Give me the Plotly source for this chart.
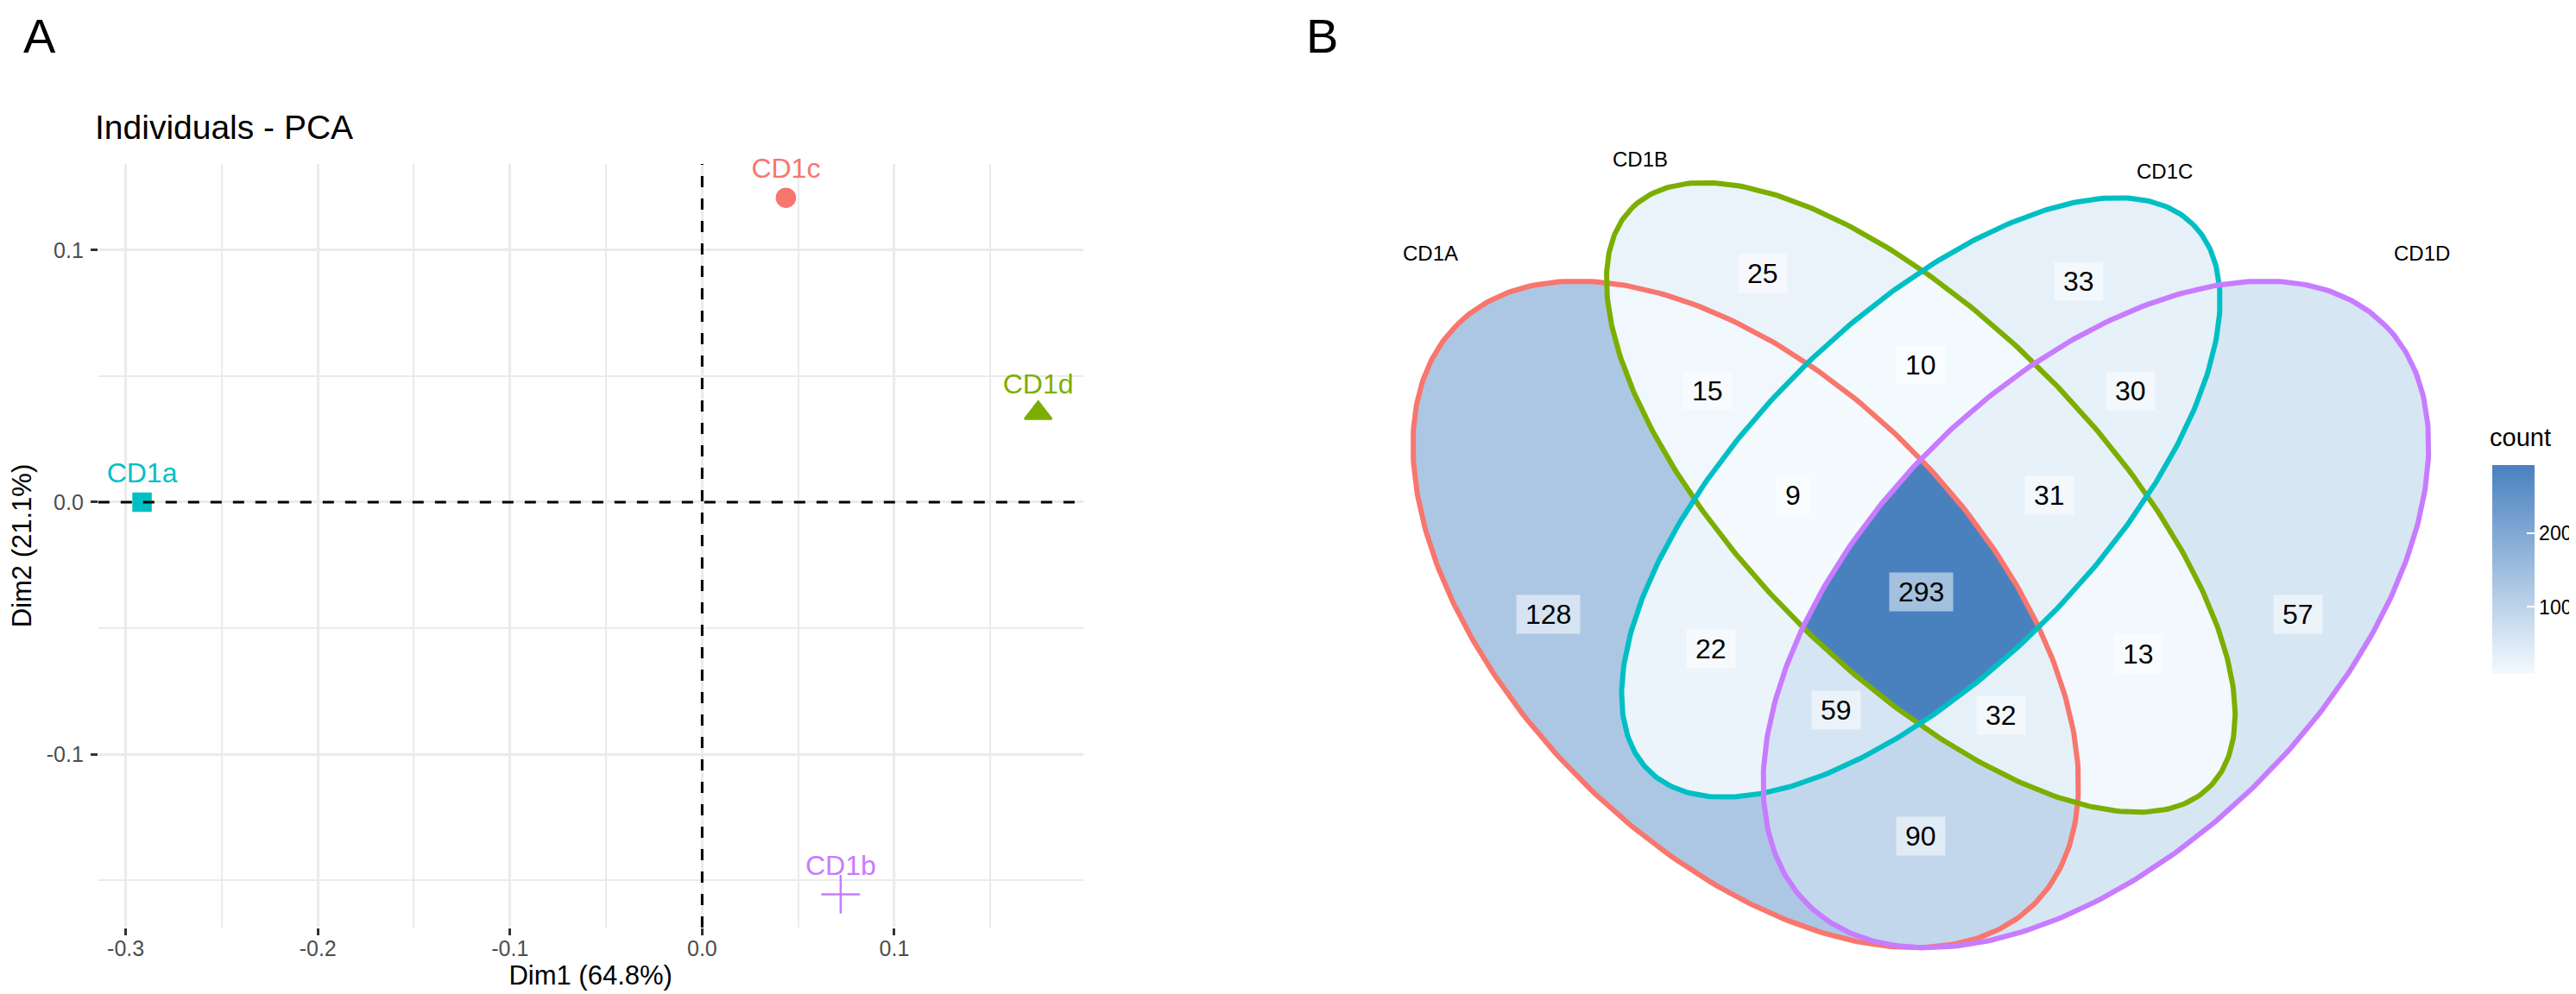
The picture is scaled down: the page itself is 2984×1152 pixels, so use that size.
import numpy as np
import plotly.graph_objects as go

# ---- panel A: PCA of individuals ----
samples = ["CD1a", "CD1b", "CD1c", "CD1d"]
dim1 = [-0.2915, 0.0721, 0.0436, 0.1749]
dim2 = [0.0, -0.1556, 0.1208, 0.0353]
sample_colors = ["#00BFC4", "#C77CFF", "#F8766D", "#7CAE00"]
sample_symbols = ["square", "cross-thin", "circle", "triangle-up"]
sample_sizes = [20, 32, 21, 27]

# ---- panel B: Venn diagram counts ----
sets = ["CD1A", "CD1B", "CD1C", "CD1D"]
set_colors = ["#F8766D", "#7CAE00", "#00BFC4", "#C77CFF"]
regions = ["A", "B", "C", "D", "AB", "AC", "AD", "BC", "BD", "CD",
           "ABC", "ABD", "ACD", "BCD", "ABCD"]
counts = [128, 25, 33, 57, 15, 22, 90, 10, 13, 30, 9, 32, 59, 31, 293]

# 4-set ellipse shape (centre x, centre y, semi axes, rotation in degrees)
ell_x = [0.35, 0.50, 0.50, 0.65]
ell_y = [0.47, 0.57, 0.57, 0.47]
ell_a = [0.35, 0.35, 0.33, 0.35]
ell_b = [0.20, 0.15, 0.15, 0.20]
ell_rot = [135, 135, 45, 45]
set_label_pos = [(0.080, 0.779), (0.260, 0.859), (0.709, 0.849), (0.929, 0.779)]

FONT = "Liberation Sans, Arial, sans-serif"
W, H = 2984, 1152


def inside(i, X, Y):
    t = np.deg2rad(ell_rot[i])
    dx, dy = X - ell_x[i], Y - ell_y[i]
    u = dx * np.cos(t) + dy * np.sin(t)
    v = -dx * np.sin(t) + dy * np.cos(t)
    return (u / ell_a[i]) ** 2 + (v / ell_b[i]) ** 2 <= 1


def outline(i, n=400):
    s = np.linspace(0, 2 * np.pi, n)
    t = np.deg2rad(ell_rot[i])
    u, v = ell_a[i] * np.cos(s), ell_b[i] * np.sin(s)
    return ell_x[i] + u * np.cos(t) - v * np.sin(t), ell_y[i] + u * np.sin(t) + v * np.cos(t)


# membership grid -> region count
step = 0.0012
gx = np.arange(0.05, 0.95, step)
gy = np.arange(0.17, 0.86, step)
X, Y = np.meshgrid(gx, gy)
code = np.zeros(X.shape, dtype=int)
for i in range(4):
    code += inside(i, X, Y).astype(int) << i


def interior_point(m):
    # like sf::st_point_on_surface: widest run on the mid scan line of the envelope
    rows = np.where(m.any(axis=1))[0]
    ymid = (gy[rows.min()] + gy[rows.max()]) / 2
    row = m[np.argmin(abs(gy - ymid))].astype(int)
    d = np.diff(np.concatenate([[0], row, [0]]))
    starts, ends = np.where(d == 1)[0], np.where(d == -1)[0]
    k = np.argmax(ends - starts)
    return (gx[starts[k]] + gx[ends[k] - 1]) / 2, ymid


z = np.full(X.shape, np.nan, dtype=np.float32)
label_xy = []
for reg, cnt in zip(regions, counts):
    k = sum(1 << "ABCD".index(ch) for ch in reg)
    m = code == k
    z[m] = cnt
    label_xy.append(interior_point(m))

fig = go.Figure()

# PCA points
fig.add_trace(go.Scatter(
    x=dim1, y=dim2, mode="markers", xaxis="x", yaxis="y",
    marker=dict(symbol=sample_symbols, color=sample_colors, size=sample_sizes, opacity=1,
                line=dict(color=sample_colors, width=2.5)),
    hoverinfo="skip", showlegend=False))
fig.add_trace(go.Scatter(
    x=dim1, y=dim2, mode="markers+text", text=samples, textposition="top center",
    textfont=dict(size=32, color=sample_colors, family=FONT), cliponaxis=False,
    marker=dict(size=22, opacity=0), xaxis="x", yaxis="y",
    hoverinfo="skip", showlegend=False))

# Venn fill
fig.add_trace(go.Heatmap(
    x=gx, y=gy, z=z, xaxis="x2", yaxis="y2", zmin=min(counts), zmax=max(counts),
    colorscale=[[0, "#F4FAFE"], [1, "#4981BF"]], hoverinfo="skip",
    colorbar=dict(x=2879 / W, xanchor="left", xpad=0, y=1 - 652 / H, yanchor="middle",
                  ypad=0, len=242, lenmode="pixels", thickness=49, outlinewidth=0,
                  tickvals=[100, 200], ticks="inside", ticklen=9, tickcolor="white",
                  tickwidth=2, tickfont=dict(size=23, color="black", family=FONT))))

for i in range(4):
    ex, ey = outline(i)
    fig.add_trace(go.Scatter(x=ex, y=ey, mode="lines", xaxis="x2", yaxis="y2",
                             line=dict(color=set_colors[i], width=6),
                             hoverinfo="skip", showlegend=False))

annotations = []
for (cx, cy), cnt in zip(label_xy, counts):
    annotations.append(dict(x=cx, y=cy, xref="x2", yref="y2", text=str(cnt), showarrow=False,
                            font=dict(size=32, color="black", family=FONT),
                            bgcolor="rgba(255,255,255,0.5)", borderpad=10, height=24))
for name, (lx, ly) in zip(sets, set_label_pos):
    annotations.append(dict(x=lx, y=ly, xref="x2", yref="y2", text=name, showarrow=False,
                            font=dict(size=24, color="black", family=FONT)))

annotations += [
    dict(x=12 / W, y=1 - 1 / H, xref="paper", yref="paper", text="A", showarrow=False,
         xanchor="left", yanchor="top", borderpad=0, font=dict(size=56, color="black")),
    dict(x=1501 / W, y=1 - 1 / H, xref="paper", yref="paper", text="B", showarrow=False,
         xanchor="left", yanchor="top", borderpad=0, font=dict(size=56, color="black")),
    dict(x=94 / W, y=1 - 139 / H, xref="paper", yref="paper", text="Individuals - PCA",
         showarrow=False, xanchor="left", yanchor="middle", font=dict(size=39, color="black")),
    dict(x=2874 / W, y=1 - 499 / H, xref="paper", yref="paper", text="count",
         showarrow=False, xanchor="left", yanchor="middle", font=dict(size=29, color="black")),
]

grid = dict(showgrid=True, gridcolor="#EBEBEB", gridwidth=2.7, zeroline=False, showline=False,
            ticks="outside", ticklen=8, tickwidth=3, tickcolor="#333333",
            tickfont=dict(size=25, color="#4D4D4D"))

fig.update_layout(
    width=W, height=H, margin=dict(l=0, r=0, t=0, b=0),
    paper_bgcolor="white", plot_bgcolor="white", showlegend=False,
    font=dict(family=FONT),
    xaxis=dict(domain=[100 / W, 1243 / W], range=[-0.3143, 0.1982],
               tickvals=[-0.3, -0.2, -0.1, 0.0, 0.1],
               ticktext=["-0.3", "-0.2", "-0.1", "0.0", "0.1"],
               minor=dict(tickmode="linear", tick0=0, dtick=0.05, showgrid=True,
                          gridcolor="#EBEBEB", gridwidth=1.5),
               ticklabelstandoff=-6,
               title=dict(text="Dim1 (64.8%)", font=dict(size=31, color="black"), standoff=1),
               **grid),
    yaxis=dict(domain=[1 - 1067 / H, 1 - 182 / H], range=[-0.1688, 0.1342],
               tickvals=[-0.1, 0.0, 0.1], ticktext=["-0.1", "0.0", "0.1"],
               minor=dict(tickmode="linear", tick0=0, dtick=0.05, showgrid=True,
                          gridcolor="#EBEBEB", gridwidth=1.5),
               ticklabelstandoff=3,
               title=dict(text="Dim2 (21.1%)", font=dict(size=31, color="black"), standoff=24),
               **grid),
    xaxis2=dict(domain=[1560 / W, 2860 / W], range=[0.01624, 0.97565], visible=False),
    yaxis2=dict(domain=[1 - 1130 / H, 1 - 120 / H], range=[0.15561, 0.90100], visible=False),
    annotations=annotations,
    shapes=[
        dict(type="line", xref="x", yref="y domain", x0=0, x1=0, y0=0, y1=1, layer="above",
             line=dict(color="black", width=3, dash="13px,13px")),
        dict(type="line", xref="x domain", yref="y", x0=0, x1=1, y0=0, y1=0, layer="above",
             line=dict(color="black", width=3, dash="13px,13px")),
    ],
)

fig.write_html("out.html")
